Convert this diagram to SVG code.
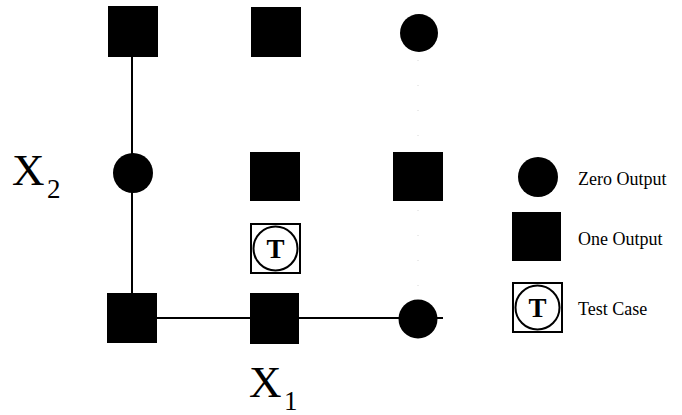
<svg xmlns="http://www.w3.org/2000/svg" width="682" height="415" viewBox="0 0 682 415">
<style>
.one{fill:#000}
.zero{fill:#000}
.tbox{fill:#fff;stroke:#000;stroke-width:2}
.tcirc{fill:#fff;stroke:#000;stroke-width:2}
.tt{font-family:"Liberation Serif",serif;font-weight:bold;font-size:27px;text-anchor:middle}
.axis{font-family:"Liberation Serif",serif;font-size:45px}
.sub{font-family:"Liberation Serif",serif;font-size:27px}
.leg{font-family:"Liberation Serif",serif;font-size:18px}
.edge{stroke:#000;stroke-width:2;fill:none}
.faint{stroke:#d8d8d8;stroke-width:1;stroke-dasharray:1 24;fill:none}
</style>
<rect width="682" height="415" fill="#fff"/>
<g id="connectors">
<line class="edge" x1="132" y1="57" x2="132" y2="293"/>
<line class="edge" x1="157" y1="318" x2="443" y2="318"/>
<line class="faint" x1="418" y1="60" x2="418" y2="300"/>
</g>
<g id="n_0_2"><rect class="one" x="108" y="6" width="50" height="51"/></g>
<g id="n_1_2"><rect class="one" x="251" y="7" width="50" height="50"/></g>
<g id="n_2_2"><circle class="zero" cx="419" cy="33" r="19"/></g>
<g id="n_0_1"><circle class="zero" cx="133" cy="173" r="20"/></g>
<g id="n_1_1"><rect class="one" x="250" y="152" width="50" height="49"/></g>
<g id="n_2_1"><rect class="one" x="393" y="152" width="50" height="49"/></g>
<g id="n_test"><rect class="tbox" x="251" y="224" width="49" height="49"/><circle class="tcirc" cx="275.5" cy="248.5" r="22"/><text class="tt" x="275.5" y="258">T</text></g>
<g id="n_0_0"><rect class="one" x="107" y="293" width="50" height="50"/></g>
<g id="n_1_0"><rect class="one" x="250" y="293" width="49" height="51"/></g>
<g id="n_2_0"><circle class="zero" cx="418" cy="319" r="19.5"/></g>
<g id="labels">
<text class="axis" x="12" y="185">X</text><text class="sub" x="47" y="198">2</text>
<text class="axis" x="249" y="397">X</text><text class="sub" x="284" y="410">1</text>
</g>
<g id="legend">
<circle class="zero" cx="538" cy="177" r="20"/>
<text class="leg" x="578" y="185">Zero Output</text>
<rect class="one" x="512" y="212" width="49" height="49"/>
<text class="leg" x="578" y="245">One Output</text>
<rect class="tbox" x="513" y="283" width="49" height="49"/>
<circle class="tcirc" cx="537.5" cy="307.5" r="22"/>
<text class="tt" x="537.5" y="317">T</text>
<text class="leg" x="578" y="315">Test Case</text>
</g>
</svg>
